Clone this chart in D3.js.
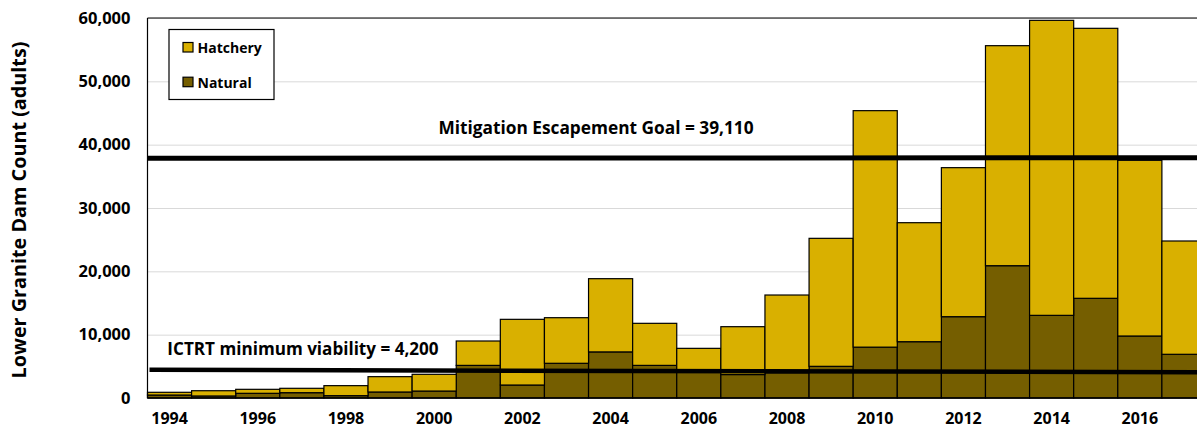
<!DOCTYPE html>
<html>
<head>
<meta charset="utf-8">
<script src="https://cdn.jsdelivr.net/npm/d3@7/dist/d3.min.js"></script>
<style>
  html, body { margin: 0; padding: 0; background: #fff; }
  svg { display: block; font-family: "Open Sans", Lato, sans-serif; font-weight: bold; }
</style>
</head>
<body>
<svg id="chart" width="1197" height="432"></svg>
<script>
const years = [1994,1995,1996,1997,1998,1999,2000,2001,2002,2003,2004,2005,2006,2007,2008,2009,2010,2011,2012,2013,2014,2015,2016,2017];
const natural = [470,320,740,840,370,950,1100,5150,2050,5480,7280,5150,4400,3700,4000,5000,8030,8890,12840,20890,13050,15740,9790,6900];
const hatchery = [430,830,630,690,1580,2420,2640,3850,10370,7200,11560,6640,3440,7560,12260,20210,37340,18790,23530,34740,46580,42630,27740,17890];
const yTicks = [0,10000,20000,30000,40000,50000,60000];
const xTickYears = [1994,1996,1998,2000,2002,2004,2006,2008,2010,2012,2014,2016];
const goalLine = [37850, 37950];   // drawn endpoints (left, right)
const goalLabel = "Mitigation Escapement Goal = 39,110";
const ictrtLine = [4450, 4060];    // drawn endpoints (left, right)
const ictrtLabel = "ICTRT minimum viability = 4,200";
const seriesNames = ["Hatchery", "Natural"];
const colors = { Hatchery: "#d9b000", Natural: "#755e00" };

const svg = d3.select("#chart");
const pL = 147.5, pR = 1206, pT = 18, pB = 398;
const FONT = '"Open Sans", Lato, sans-serif';

const x = d3.scaleBand().domain(years).range([pL, pR]).paddingInner(0).paddingOuter(0);
const y = d3.scaleLinear().domain([0, 60000]).range([pB, pT]);

// gridlines
svg.append("g")
  .attr("transform", `translate(${pL},0)`)
  .call(d3.axisLeft(y).tickValues(yTicks).tickSize(-(pR - pL)).tickFormat(""))
  .call(g => g.select(".domain").remove())
  .call(g => g.selectAll("line").attr("stroke", "#d9d9d9").attr("stroke-width", 1));

// stacked data
const rows = years.map((yr, i) => ({ year: yr, Natural: natural[i], Hatchery: hatchery[i] }));
const stack = d3.stack().keys(["Natural", "Hatchery"])(rows);

svg.append("g").selectAll("g").data(stack).join("g")
  .attr("fill", d => colors[d.key])
  .selectAll("rect").data(d => d).join("rect")
  .attr("x", d => x(d.data.year))
  .attr("width", x.bandwidth())
  .attr("y", d => y(d[1]))
  .attr("height", d => y(d[0]) - y(d[1]))
  .attr("stroke", "#000")
  .attr("stroke-width", 1.2);

// frame
svg.append("line").attr("x1", pL).attr("x2", pR).attr("y1", pT).attr("y2", pT).attr("stroke", "#000").attr("stroke-width", 1.2);
svg.append("line").attr("x1", pL).attr("x2", pL).attr("y1", pT).attr("y2", pB).attr("stroke", "#000").attr("stroke-width", 1.2);
svg.append("line").attr("x1", pL).attr("x2", pR).attr("y1", pB).attr("y2", pB).attr("stroke", "#000").attr("stroke-width", 1.5);

// y axis labels
svg.append("g")
  .attr("transform", `translate(${pL},0)`)
  .call(d3.axisLeft(y).tickValues(yTicks).tickSize(0).tickPadding(17).tickFormat(d3.format(",")))
  .call(g => g.select(".domain").remove())
  .call(g => g.selectAll("text").attr("font-size", 16.5).attr("font-family", FONT).attr("font-weight", "bold").attr("fill", "#000"));

// x axis labels
svg.append("g")
  .attr("transform", `translate(0,${pB})`)
  .call(d3.axisBottom(x).tickValues(xTickYears).tickSize(0).tickPadding(15))
  .call(g => g.select(".domain").remove())
  .call(g => g.selectAll("text").attr("font-size", 16).attr("font-family", FONT).attr("font-weight", "bold").attr("fill", "#000"));

// y title
svg.append("text")
  .attr("transform", `translate(25.5,${(43 + 377) / 2}) rotate(-90)`)
  .attr("text-anchor", "middle")
  .attr("font-size", 19.8)
  .text("Lower Granite Dam Count (adults)");

// reference lines
svg.append("line")
  .attr("x1", pL).attr("x2", 1197)
  .attr("y1", y(goalLine[0])).attr("y2", y(goalLine[1]))
  .attr("stroke", "#000").attr("stroke-width", 5);
svg.append("line")
  .attr("x1", 149.5).attr("x2", 1197)
  .attr("y1", y(ictrtLine[0])).attr("y2", y(ictrtLine[1]))
  .attr("stroke", "#000").attr("stroke-width", 4.5);

svg.append("text").attr("x", 596).attr("y", 133.5).attr("text-anchor", "middle").attr("font-size", 17.3).text(goalLabel);
svg.append("text").attr("x", 303).attr("y", 355).attr("text-anchor", "middle").attr("font-size", 17.1).text(ictrtLabel);

// legend
const lg = svg.append("g");
lg.append("rect").attr("x", 169).attr("y", 29.5).attr("width", 105).attr("height", 70)
  .attr("fill", "#fff").attr("stroke", "#000").attr("stroke-width", 1.2);
seriesNames.forEach((name, i) => {
  const yy = 42.5 + i * 34.7;
  lg.append("rect").attr("x", 183).attr("y", yy).attr("width", 10).attr("height", 9.5)
    .attr("fill", colors[name]).attr("stroke", "#000").attr("stroke-width", 1.2);
  lg.append("text").attr("x", 197.5).attr("y", yy + 10.5).attr("font-size", 14).text(name);
});
</script>
</body>
</html>
